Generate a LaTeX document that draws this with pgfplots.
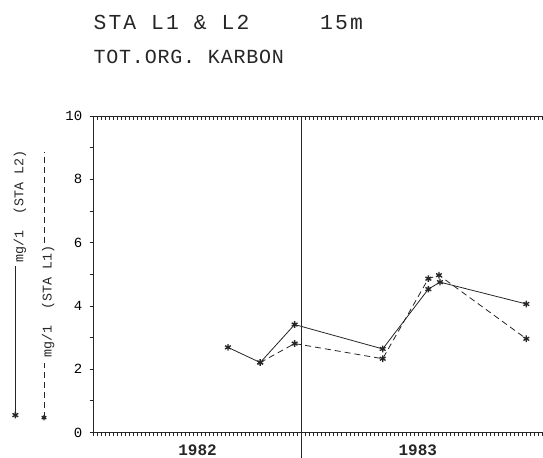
\documentclass[border=0pt]{standalone}
\usepackage{fontspec}
\setmainfont{Liberation Sans}
\newfontfamily\plotfont{Liberation Mono}
\newfontfamily\titlefont[LetterSpace=10]{Liberation Mono}
\newfontfamily\subfont[LetterSpace=4]{Liberation Mono}
\usepackage{pgfplots}
\pgfplotsset{compat=1.18}
\begin{document}
\begin{tikzpicture}
\useasboundingbox (-70pt,-18.4pt) rectangle (337.3pt,324.4pt);
\pgfplotsset{
  common/.style={at={(0,0)}, anchor=south west, scale only axis,
    width=337.3pt, height=237.4pt, xmin=0, xmax=25.89, ymin=0, ymax=10,
    axis line style={-, draw=black!85, line width=0.6pt}, clip=false,
    every tick/.style={draw=black!85, line width=0.5pt}},
}
% top axis with inward weekly ticks
\begin{axis}[common,
  axis x line*=top, axis y line=none,
  xtick={0,0.230769,...,25.9}, xticklabels={},
  tick align=inside, major tick length=3pt,
]
\end{axis}
\begin{axis}[common,
  axis x line*=bottom, axis y line*=left,
  xtick={0,0.230769,...,25.9}, xticklabels={},
  ytick={0,1,...,10}, yticklabels={0,,2,,4,,6,,8,,10},
  tick align=outside, major tick length=2.8pt,
  yticklabel style={font=\plotfont\fontsize{10.5}{12}\selectfont, xshift=-2pt},
  /pgf/number format/assume math mode=true,
]
% year separator
\addplot[black!85, line width=0.5pt, forget plot] coordinates {(12,-0.8) (12,10)};
% STA L2 (solid)
\addplot[black!85, line width=0.6pt, mark=asterisk, mark size=2.5pt,
  mark options={solid, line width=1pt}] coordinates {
  (7.75,2.69) (9.61,2.21) (11.59,3.41) (16.66,2.64) (19.29,4.53) (19.96,4.75) (24.93,4.06)};
% STA L1 (dashed)
\addplot[black!85, line width=0.6pt, dash pattern=on 4.5pt off 3pt, mark=asterisk, mark size=2.5pt,
  mark options={solid, line width=1pt}] coordinates {
  (9.61,2.21) (11.59,2.81) (16.66,2.33) (19.29,4.86) (19.90,4.97) (24.93,2.96)};
% legend samples
\addplot[black!85, line width=0.6pt, forget plot] coordinates {(-4.49,0.55) (-4.49,5.25)};
\addplot[black!85, only marks, mark=asterisk, mark size=2.5pt, mark options={line width=1pt}, forget plot] coordinates {(-4.49,0.55)};
\addplot[black!85, line width=0.6pt, dash pattern=on 4.5pt off 3pt, forget plot] coordinates {(-2.84,0.47) (-2.84,2.2)};
\addplot[black!85, line width=0.6pt, dash pattern=on 4.5pt off 3pt, forget plot] coordinates {(-2.84,6.0) (-2.84,8.86)};
\addplot[black!85, only marks, mark=asterisk, mark size=2.0pt, mark options={line width=1pt}, forget plot] coordinates {(-2.84,0.47)};
\node[rotate=90, anchor=west, inner sep=0pt, font=\plotfont\fontsize{10}{12}\selectfont, text=black!85] at (axis cs:-4.22,5.35) {mg/1\ \ (STA L2)};
\node[rotate=90, anchor=west, inner sep=0pt, font=\plotfont\fontsize{10}{12}\selectfont, text=black!85] at (axis cs:-2.60,2.35) {mg/1\ \ (STA L1)};
% year labels
\node[anchor=base, inner sep=0pt, font=\plotfont\bfseries\fontsize{12}{14}\selectfont, text=black!85] at (axis cs:6.0,0) [yshift=-16.9pt] {1982};
\node[anchor=base, inner sep=0pt, font=\plotfont\bfseries\fontsize{12}{14}\selectfont, text=black!85] at (axis cs:18.68,0) [yshift=-16.9pt] {1983};
\end{axis}
% titles
\node[anchor=base west, inner sep=0pt, font=\titlefont\fontsize{16}{18}\selectfont, text=black!85] at (0pt,302.3pt) {STA L1 \& L2};
\node[anchor=base west, inner sep=0pt, font=\titlefont\fontsize{16}{18}\selectfont, text=black!85] at (170pt,302.3pt) {15m};
\node[anchor=base west, inner sep=0pt, font=\subfont\fontsize{15}{17}\selectfont, text=black!85] at (0pt,276.9pt) {TOT.ORG. KARBON};
\end{tikzpicture}
\end{document}
